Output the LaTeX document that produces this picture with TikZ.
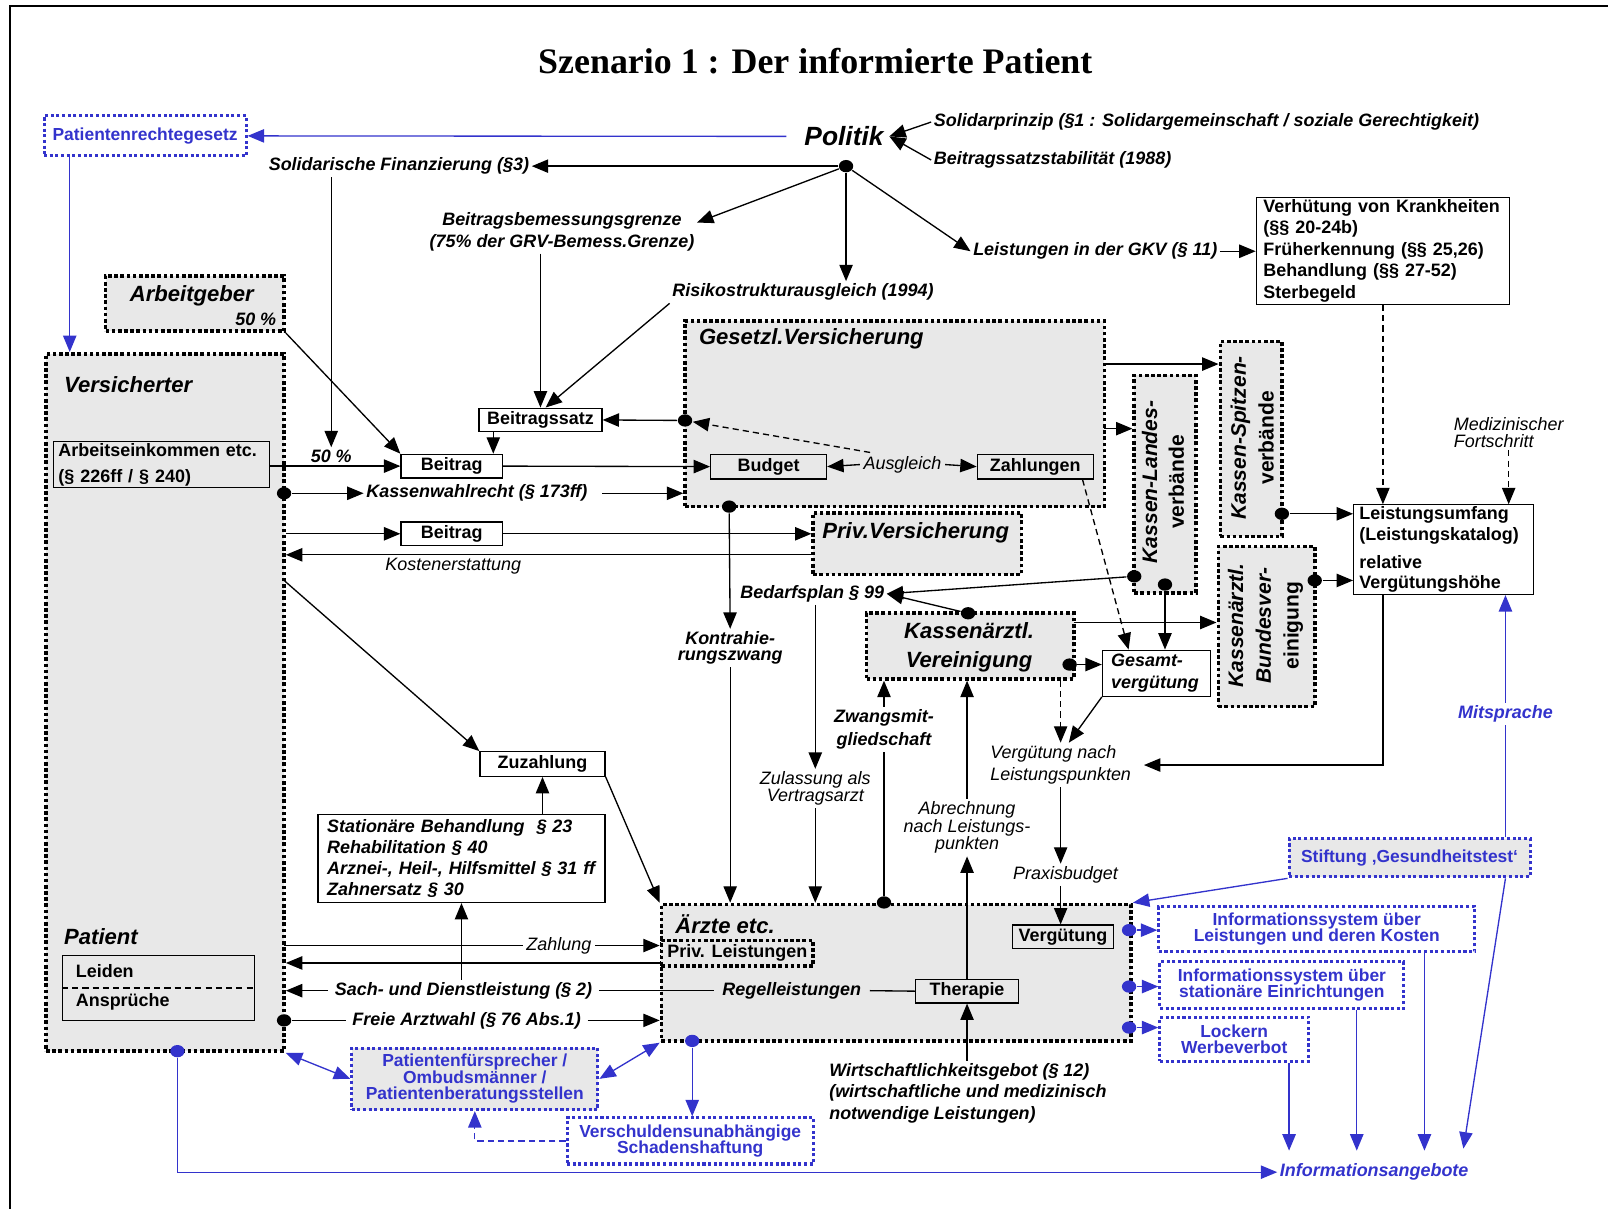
\documentclass[tikz,border=0pt]{standalone}
\usepackage{fontspec}
\setmainfont{Liberation Sans}
\newfontfamily\titelfont{Liberation Serif}
\usetikzlibrary{arrows.meta}

\definecolor{blau}{RGB}{51,51,204}
\definecolor{grau}{RGB}{232,232,232}
\newcommand{\grund}{\fontsize{17.5}{19}\selectfont}

\tikzset{
  pfeil/.style={-{Triangle[length=16pt,width=13pt]}},
  doppelpfeil/.style={{Triangle[length=16pt,width=13pt]}-{Triangle[length=16pt,width=13pt]}},
  gestrichelt/.style={dash pattern=on 6pt off 4pt},
  knopf/.style={ellipse,fill,inner sep=0pt,minimum width=14pt,minimum height=12pt},
  kasten/.style={draw,line width=1.2pt,fill=white,inner sep=2pt,font=\bfseries\grund},
  akteur/.style={draw,fill=grau,line width=3.5pt,dash pattern=on 3.5pt off 2.5pt},
  blaukasten/.style={draw=blau,text=blau,line width=3pt,dash pattern=on 3pt off 2.5pt,
    font=\bfseries\fontsize{17}{16}\selectfont,align=center,inner sep=1pt},
  fettkursiv/.style={font=\bfseries\itshape\grund,inner sep=2pt},
  kursiv/.style={font=\itshape\grund,inner sep=2pt},
  titel/.style={font=\bfseries\itshape\fontsize{21.5}{28}\selectfont,inner sep=1pt},
}
\usetikzlibrary{shapes.geometric}

\begin{document}
\begin{tikzpicture}[x=1pt,y=-1pt,line width=1.3pt]
\useasboundingbox (0,0) rectangle (1568,1179);
% Rahmen und Titel:
\draw[line width=1.5pt] (1568,6) -- (10,6) -- (10,1179);
\node[font=\titelfont\bfseries\fontsize{35}{40}\selectfont] (titel) at (795,60) {Szenario 1 : Der informierte Patient};

% Akteure als gepunktete Kaesten:
\node[akteur,minimum width=232pt,minimum height=680pt] (verz) at (161,685) {};
\node[akteur,minimum width=174pt,minimum height=54pt] (agb) at (190,296) {};
\node[akteur,minimum width=409pt,minimum height=181pt] (gkv) at (872.5,403.5) {};
\node[akteur,minimum width=203pt,minimum height=60pt] (pkv) at (894.5,530) {};
\node[akteur,minimum width=202pt,minimum height=64pt] (kv) at (946,630) {};
\node[akteur,minimum width=458pt,minimum height=133pt] (aerzte) at (874,948.5) {};
\node[akteur,minimum width=60pt,minimum height=212pt] (kld) at (1136,472) {};
\node[akteur,minimum width=60pt,minimum height=190pt] (ksp) at (1220,428) {};
\node[akteur,minimum width=94pt,minimum height=156pt] (kbv) at (1235,611) {};
\node[akteur,font=\bfseries\grund,minimum width=148pt,minimum height=25pt,inner sep=0pt] (privl) at (719,929.5) {Priv. Leistungen};

% Titel in den Kaesten:
\node[titel,anchor=west] (verztitel) at (61,375) {Versicherter};
\node[titel,anchor=west] (pattitel) at (61,913) {Patient};
\node[titel] (agbtitel) at (187,288) {Arbeitgeber};
\node[fettkursiv,anchor=east] (agbproz) at (272,311) {50 \%};
\node[titel,anchor=west] (gkvtitel) at (680,330) {Gesetzl.Versicherung};
\node[titel] (pkvtitel) at (893,520) {Priv.Versicherung};
\node[titel,align=center] (kvtitel) at (945,631) {Kassenärztl.\\Vereinigung};
\node[titel,anchor=west] (aerztetitel) at (657,901) {Ärzte etc.};
\node[titel,rotate=90,align=center,font=\bfseries\fontsize{20.5}{26}\selectfont] (kldtitel) at (1134,470) {\itshape Kassen-Landes-\\verbände};
\node[titel,rotate=90,align=center,font=\bfseries\fontsize{20.5}{27}\selectfont] (ksptitel) at (1221,427) {\itshape Kassen-Spitzen-\\verbände};
\node[titel,rotate=90,align=center,font=\bfseries\fontsize{20.5}{27}\selectfont] (kbvtitel) at (1234,610) {\itshape Kassenärztl.\\\itshape Bundesver-\\einigung};

% Kaesten mit Rahmen:
\node[kasten,minimum width=120pt,minimum height=23pt] (bsatz) at (527,409.5) {Beitragssatz};
\node[kasten,minimum width=99pt,minimum height=23pt] (beitrag1) at (440.5,454.5) {Beitrag};
\node[kasten,fill=grau,minimum width=113pt,minimum height=24pt] (budget) at (749.5,455) {Budget};
\node[kasten,fill=grau,minimum width=113pt,minimum height=24pt] (zahlungen) at (1009.5,455) {Zahlungen};
\node[kasten,minimum width=99pt,minimum height=23pt] (beitrag2) at (440.5,520.5) {Beitrag};
\node[kasten,minimum width=122pt,minimum height=24pt] (zuzahlung) at (529,745) {Zuzahlung};
\node[kasten,fill=grau,minimum width=100pt,minimum height=23pt] (therapie) at (943,966.5) {Therapie};
\node[kasten,fill=grau,minimum width=99pt,minimum height=23pt] (verguetung) at (1036.5,913.5) {Vergütung};
\node[kasten,fill=grau,align=left,text width=201pt,inner xsep=5pt,font=\bfseries\fontsize{17.5}{25}\selectfont] (einkommen) at (157.5,453) {Arbeitseinkommen etc.\\(§ 226ff / § 240)};
\node[kasten,fill=grau,minimum width=187pt,minimum height=63pt] (leiden) at (154.5,963.5) {};
\draw[gestrichelt] (leiden.west) -- (leiden.east);
\node[font=\bfseries\grund,anchor=west] (leidtext) at (70,947) {Leiden};
\node[font=\bfseries\grund,anchor=west] (anspruch) at (70,977) {Ansprüche};
\node[kasten,align=left,text width=233pt,inner xsep=7pt,font=\bfseries\fontsize{17.5}{21}\selectfont] (leist) at (1348.5,244.5) {Verhütung von Krankheiten\\(§§ 20-24b)\\Früherkennung (§§ 25,26)\\Behandlung (§§ 27-52)\\Sterbegeld};
\node[kasten,align=left,text width=164pt,inner xsep=5.5pt,font=\bfseries\fontsize{17.5}{20}\selectfont] (umfang) at (1407.5,536) {Leistungsumfang\\(Leistungskatalog)\\[7pt]relative\\Vergütungshöhe};
\node[kasten,align=left,text width=262pt,inner xsep=9pt,minimum height=86pt,font=\bfseries\itshape\fontsize{17.5}{20.7}\selectfont] (stationaer) at (450,837) {Stationäre Behandlung \ § 23\\Rehabilitation § 40\\Arznei-, Heil-, Hilfsmittel § 31 ff\\Zahnersatz § 30};
\node[kasten,align=left,text width=88pt,inner xsep=8.5pt,minimum height=45pt,font=\bfseries\itshape\fontsize{17.5}{22}\selectfont] (gesamt) at (1127.5,656.5) {Gesamt-\\vergütung};

% blaue Kaesten:
\node[blaukasten,minimum width=197pt,minimum height=39pt] (prg) at (141.5,132.5) {Patientenrechtegesetz};
\node[blaukasten,fill=grau,minimum width=235pt,minimum height=37pt] (stift) at (1374.5,836.5) {Stiftung ‚Gesundheitstest‘};
\node[blaukasten,minimum width=308pt,minimum height=44pt] (info1) at (1284,906) {Informationssystem über\\Leistungen und deren Kosten};
\node[blaukasten,minimum width=238pt,minimum height=45pt] (info2) at (1250,960.5) {Informationssystem über\\stationäre Einrichtungen};
\node[blaukasten,minimum width=145pt,minimum height=43pt] (lock) at (1203.5,1013.5) {Lockern\\Werbeverbot};
\node[blaukasten,fill=grau,minimum width=240pt,minimum height=60pt] (pfs) at (463,1052) {Patientenfürsprecher /\\Ombudsmänner /\\Patientenberatungsstellen};
\node[blaukasten,minimum width=240pt,minimum height=45pt] (vsh) at (673,1112.5) {Verschuldensunabhängige\\Schadenshaftung};

% Beschriftungen:
\node[font=\bfseries\itshape\fontsize{25.7}{28}\selectfont,inner sep=5pt] (politik) at (823,133) {Politik};
\node[fettkursiv,anchor=west] (solprinzip) at (908,119) {Solidarprinzip (§1 : Solidargemeinschaft / soziale Gerechtigkeit)};
\node[fettkursiv,anchor=west] (bstab) at (908,156) {Beitragssatzstabilität (1988)};
\node[fettkursiv] (solfin) at (389,162) {Solidarische Finanzierung (§3)};
\node[fettkursiv,align=center,font=\bfseries\itshape\fontsize{17.5}{21}\selectfont] (bbg) at (548,226) {Beitragsbemessungsgrenze\\(75\% der GRV-Bemess.Grenze)};
\node[fettkursiv] (rsa) at (783,285) {Risikostrukturausgleich (1994)};
\node[fettkursiv] (lgkv) at (1068,245) {Leistungen in der GKV (§ 11)};
\node[kursiv,anchor=west,align=left,font=\itshape\fontsize{17.5}{16}\selectfont] (medfort) at (1415,422) {Medizinischer\\Fortschritt};
\node[fettkursiv] (prozent1) at (323,445) {50 \%};
\node[fettkursiv] (kwr) at (465,481) {Kassenwahlrecht (§ 173ff)};
\node[kursiv] (kosten) at (442,552) {Kostenerstattung};
\node[kursiv,inner sep=3pt] (ausgleich) at (880,453) {Ausgleich};
\node[fettkursiv] (bedarf) at (792,579) {Bedarfsplan § 99};
\node[fettkursiv,align=center,font=\bfseries\itshape\fontsize{17.5}{16}\selectfont] (kontra) at (712,632) {Kontrahie-\\rungszwang};
\node[kursiv,align=center,font=\itshape\fontsize{17.5}{17}\selectfont] (zulassung) at (795,769) {Zulassung als\\Vertragsarzt};
\node[fettkursiv,align=center,font=\bfseries\itshape\fontsize{17.5}{22}\selectfont] (zwang) at (862,711) {Zwangsmit-\\gliedschaft};
\node[kursiv,align=center,font=\itshape\fontsize{17.5}{16}\selectfont] (abrechnung) at (943,807) {Abrechnung\\nach Leistungs-\\punkten};
\node[kursiv,anchor=west,align=left,font=\itshape\fontsize{17.5}{22}\selectfont] (vgnlp) at (963,746) {Vergütung nach\\Leistungspunkten};
\node[kursiv] (praxis) at (1039,853) {Praxisbudget};
\node[fettkursiv,text=blau] (mitsprache) at (1468,696) {Mitsprache};
\node[kursiv,inner xsep=3pt] (zahlung) at (545,922) {Zahlung};
\node[fettkursiv,inner xsep=6pt] (sach) at (452,966) {Sach- und Dienstleistung (§ 2)};
\node[fettkursiv,inner xsep=8pt] (regel) at (772,966) {Regelleistungen};
\node[fettkursiv,inner xsep=6pt] (freie) at (455,995) {Freie Arztwahl (§ 76 Abs.1)};
\node[fettkursiv,anchor=west,align=left,font=\bfseries\itshape\fontsize{17.5}{21}\selectfont] (wirt) at (806,1066) {Wirtschaftlichkeitsgebot (§ 12)\\(wirtschaftliche und medizinisch\\notwendige Leistungen)};
\node[fettkursiv,text=blau] (infoang) at (1340,1143) {Informationsangebote};

% Knoten (Punkte):
\node[knopf] (dpol) at (825,162) {};
\node[knopf] (dgkv1) at (668,410) {};
\node[knopf] (dgkv2) at (711,494) {};
\node[knopf] (dkw) at (277,481) {};
\node[knopf] (dfa) at (277,995) {};
\node[knopf] (dkld1) at (1106,562) {};
\node[knopf] (dkld2) at (1136,570) {};
\node[knopf] (dkv1) at (944,598) {};
\node[knopf] (dkv2) at (1043,648) {};
\node[knopf] (daer) at (862,880) {};
\node[knopf] (dksp) at (1250,501) {};
\node[knopf] (dkbv) at (1282,566) {};
\node[knopf,blau] (dv) at (173,1025) {};
\node[knopf,blau] (da) at (675,1015) {};
\node[knopf,blau] (di1) at (1101,907) {};
\node[knopf,blau] (di2) at (1101,962) {};
\node[knopf,blau] (di3) at (1101,1002) {};

% Hilfspunkte an den Raendern:
\coordinate (prgab) at (68,152);
\coordinate (bsatzab) at (481,421);
\coordinate (vz) at (277,566);
\coordinate (ke) at (793,541);
\coordinate (gk1) at (1077,418);
\coordinate (gk2) at (1077,355);
\coordinate (kvo) at (1047,607);
\coordinate (z1) at (277,922);
\coordinate (pl) at (645,939);
\coordinate (ia1) at (1257,1122);
\coordinate (ia2) at (1323,1122);
\coordinate (ia3) at (1389,1122);
\coordinate (ia4) at (1427,1120);

% Politik:
\draw[pfeil] (solprinzip.west) -- (politik.east);
\draw[pfeil] (bstab.west) -- (politik.east);
\draw[pfeil,blau] ([xshift=-12pt]politik.west) -- (prg.east);
\draw[pfeil,blau] (prgab) -- (verz.north -| prgab);
\draw[pfeil] (dpol) -- (solfin.east);
\draw[pfeil] (dpol) -- ([yshift=9pt]bbg.east);
\draw[pfeil] (dpol) -- (dpol |- rsa.north);
\draw[pfeil] (dpol) -- (lgkv.west);
\draw[pfeil] (lgkv.east) -- (leist.west |- lgkv);

% Beitrag und Budget:
\draw[pfeil] (solfin.south -| prozent1) -- (prozent1.north);
\draw[pfeil] (agb.south east) -- (beitrag1.north west);
\draw[pfeil] (einkommen.east |- beitrag1) -- (beitrag1.west);
\draw[pfeil] (bbg.south -| bsatz) -- (bsatz.north);
\draw[pfeil] (rsa.south west) -- ([xshift=5pt]bsatz.north);
\draw[pfeil] (dgkv1) -- (bsatz.east);
\draw[pfeil] (bsatzab) -- (bsatzab |- beitrag1.north);
\draw[pfeil] (beitrag1.east) -- (budget.west);
\draw[pfeil,gestrichelt] ([xshift=10pt]ausgleich.north west) -- (dgkv1);
\draw[pfeil] (ausgleich.west) -- (budget.east);
\draw[pfeil] (ausgleich.east) -- (zahlungen.west);
\draw[pfeil,gestrichelt] ([xshift=-11pt]zahlungen.south east) -- ([xshift=-27pt]gesamt.north);

% Kassenwahl und private Versicherung:
\draw[pfeil] (dkw) -- (kwr.west);
\draw[pfeil,shorten <=12pt] (kwr.east) -- (gkv.west |- kwr);
\draw[pfeil] (verz.east |- beitrag2) -- (beitrag2.west);
\draw[pfeil] (beitrag2.east) -- (pkv.west |- beitrag2);
\draw[pfeil] (ke) -- (verz.east |- ke);

% Zuzahlung:
\draw[pfeil] (vz) -- (zuzahlung.north west);
\draw[pfeil] (zuzahlung.south east) -- (aerzte.north west);
\draw[pfeil] (stationaer.north -| zuzahlung) -- (zuzahlung.south);
\draw[pfeil] (stationaer.south |- sach.north) -- (stationaer.south);

% Kontrahierungszwang, Bedarfsplan, Zulassung:
\draw[pfeil] (dgkv2) -- (kontra.north);
\draw[pfeil] (kontra.south) -- (aerzte.north -| kontra);
\draw[pfeil] (dkld1) -- (bedarf.east);
\draw[pfeil] (dkv1) -- (bedarf.east);
\draw[pfeil] (bedarf.south -| zulassung) -- (zulassung.north);
\draw[pfeil] (zulassung.south) -- (aerzte.north -| zulassung);
\draw (daer) -- (zwang.south);
\draw[pfeil] (zwang.north) -- (kv.south -| zwang);
\draw[pfeil] (therapie.north) -- (abrechnung.south);
\draw[pfeil] (abrechnung.north) -- (kv.south -| abrechnung);

% Kassenaerztliche Vereinigung und Verbaende:
\draw[pfeil] (dkv2) -- (gesamt.west |- dkv2);
\draw[pfeil] (kvo) -- (kbv.west |- kvo);
\draw[pfeil,gestrichelt] (kv.south -| vgnlp) -- (vgnlp.north);
\draw[pfeil] (gesamt.south west) -- ([xshift=8pt]vgnlp.north);
\draw[pfeil] (dkld2) -- (gesamt.north -| dkld2);
\draw[pfeil] (gk1) -- (kld.west |- gk1);
\draw[pfeil] (gk2) -- (ksp.west |- gk2);

% Leistungsumfang:
\draw[pfeil,gestrichelt] (leist.south) -- (umfang.north -| leist.south);
\draw[pfeil,gestrichelt] (medfort.south) -- (umfang.north -| medfort.south);
\draw[pfeil] (dksp) -- (umfang.west |- dksp);
\draw[pfeil] (dkbv) -- (umfang.west |- dkbv);
\draw[pfeil,shorten >=10pt] (umfang.south -| leist.south) |- (vgnlp.east);

% Aerzte und Patient:
\draw[pfeil] (sach.west) -- (verz.east |- sach);
\draw (sach.east) -- (regel.west);
\draw (regel.east) -- (therapie.west);
\draw (z1) -- (zahlung.west);
\draw[pfeil] (zahlung.east) -- (aerzte.west |- zahlung);
\draw[pfeil] (pl) -- (verz.east |- pl);
\draw (dfa) -- (freie.west);
\draw[pfeil] (freie.east) -- (aerzte.west |- freie);
\draw[pfeil] (wirt.north -| therapie) -- (therapie.south);
\draw[pfeil] (vgnlp.south) -- (vgnlp.south |- praxis.north);
\draw[pfeil] (praxis.south -| vgnlp.south) -- (verguetung.north -| vgnlp.south);

% blaue Verbindungen:
\draw[pfeil,blau] (stift.south west) -- (aerzte.north east);
\draw[blau] (stift.north -| mitsprache) -- (mitsprache.south);
\draw[pfeil,blau] (mitsprache.north) -- (umfang.south -| mitsprache);
\draw[pfeil,blau] (stift.south -| mitsprache) -- (ia4);
\draw[pfeil,blau] (di1) -- (info1.west |- di1);
\draw[pfeil,blau] (di2) -- (info2.west |- di2);
\draw[pfeil,blau] (di3) -- (lock.west |- di3);
\draw[pfeil,blau] (lock.south -| ia1) -- (ia1);
\draw[pfeil,blau] (info2.south -| ia2) -- (ia2);
\draw[pfeil,blau] (info1.south -| ia3) -- (ia3);
\draw[pfeil,blau] (dv) |- (infoang.west);
\draw[doppelpfeil,blau] (verz.south east) -- (pfs.west);
\draw[doppelpfeil,blau] (pfs.east) -- (aerzte.south west);
\draw[pfeil,blau] (da) -- (vsh.north -| da);
\draw[pfeil,blau,gestrichelt] (vsh.west) -| (pfs.south);
\end{tikzpicture}
\end{document}
